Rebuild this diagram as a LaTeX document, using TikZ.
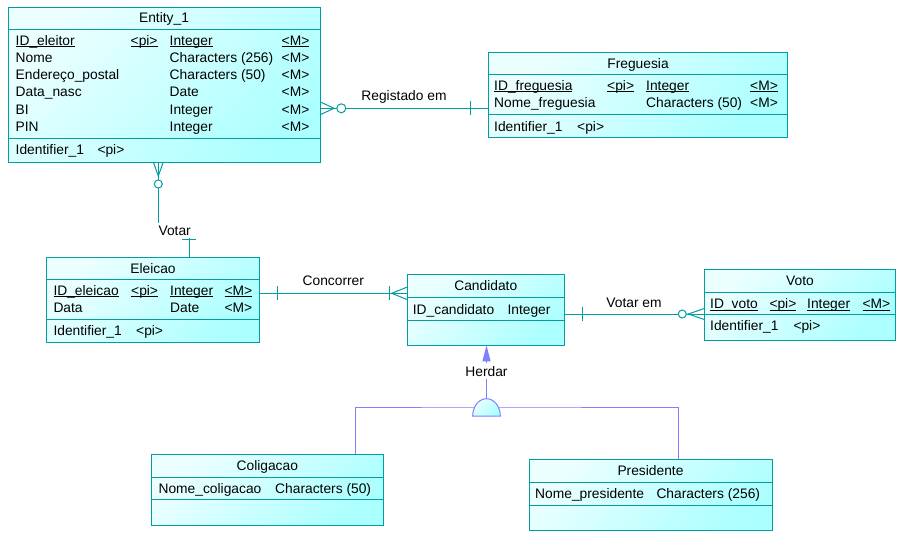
\documentclass[tikz,border=0pt]{standalone}
\usepackage{fontspec}
\setmainfont{Liberation Sans}
\usetikzlibrary{arrows.meta,calc}

\definecolor{boxline}{RGB}{0,158,158}
\definecolor{boxlight}{RGB}{236,255,255}
\definecolor{boxdark}{RGB}{172,255,255}
\definecolor{inhline}{RGB}{128,128,255}

\newsavebox\ulbox
\newcommand\ulx[1]{\sbox\ulbox{#1}\rlap{\rule[-2.2pt]{\wd\ulbox}{0.8pt}}\usebox\ulbox}

\begin{document}
\begin{tikzpicture}[
  x=1pt, y=-1pt,
  font=\fontsize{13.8}{16}\selectfont,
  entity/.style={
    draw=boxline, line width=1pt,
    top color=boxlight, bottom color=boxdark, shading angle=45,
    anchor=north west, inner sep=0pt, outer sep=0pt
  },
  cell/.style={anchor=base west, inner sep=0pt},
  ttl/.style={anchor=base, inner sep=0pt},
  sep/.style={draw=boxline, line width=1pt},
  rel/.style={draw=boxline, line width=1pt},
  inh/.style={draw=inhline, line width=1pt},
  lbl/.style={anchor=base, inner sep=0pt},
  rlabel/.style={anchor=base, fill=white, inner sep=3pt}
]
  \useasboundingbox (0,0) rectangle (899,544);

  % Entity_1
  \node[entity, minimum width=312pt, minimum height=155pt] (e1) at (8,7) {};
  \draw[sep] (8,29.5) -- (320,29.5);
  \draw[sep] (8,138.5) -- (320,138.5);
  \node[ttl] (e1t) at (164,22.5) {Entity\_1};
  \node[cell] (e1a1) at (15.5,45) {\ulx{ID\_eleitor}};
  \node[cell] (e1a2) at (130.5,45) {\ulx{<pi>}};
  \node[cell] (e1a3) at (169.5,45) {\ulx{Integer}};
  \node[cell] (e1a4) at (281.5,45) {\ulx{<M>}};
  \node[cell] (e1b1) at (15.5,62.3) {Nome};
  \node[cell] (e1b3) at (169.5,62.3) {Characters (256)};
  \node[cell] (e1b4) at (281.5,62.3) {<M>};
  \node[cell] (e1c1) at (15.5,79.6) {Endereço\_postal};
  \node[cell] (e1c3) at (169.5,79.6) {Characters (50)};
  \node[cell] (e1c4) at (281.5,79.6) {<M>};
  \node[cell] (e1d1) at (15.5,96.9) {Data\_nasc};
  \node[cell] (e1d3) at (169.5,96.9) {Date};
  \node[cell] (e1d4) at (281.5,96.9) {<M>};
  \node[cell] (e1e1) at (15.5,114.2) {BI};
  \node[cell] (e1e3) at (169.5,114.2) {Integer};
  \node[cell] (e1e4) at (281.5,114.2) {<M>};
  \node[cell] (e1f1) at (15.5,131.5) {PIN};
  \node[cell] (e1f3) at (169.5,131.5) {Integer};
  \node[cell] (e1f4) at (281.5,131.5) {<M>};
  \node[cell] (e1i1) at (15.5,154.5) {Identifier\_1};
  \node[cell] (e1i2) at (97.3,154.5) {<pi>};

  % Freguesia
  \node[entity, minimum width=299.4pt, minimum height=84.6pt] (fr) at (488.3,52.7) {};
  \draw[sep] (488.3,74.7) -- (787.7,74.7);
  \draw[sep] (488.3,114.7) -- (787.7,114.7);
  \node[ttl] (frt) at (638,68.5) {Freguesia};
  \node[cell] (fra1) at (494,90) {\ulx{ID\_freguesia}};
  \node[cell] (fra2) at (607,90) {\ulx{<pi>}};
  \node[cell] (fra3) at (646,90) {\ulx{Integer}};
  \node[cell] (fra4) at (750,90) {\ulx{<M>}};
  \node[cell] (frb1) at (494,107) {Nome\_freguesia};
  \node[cell] (frb3) at (646,107) {Characters (50)};
  \node[cell] (frb4) at (750,107) {<M>};
  \node[cell] (fri1) at (494,131) {Identifier\_1};
  \node[cell] (fri2) at (577,131) {<pi>};

  % Eleicao
  \node[entity, minimum width=213.4pt, minimum height=84.6pt] (el) at (46.3,257.7) {};
  \draw[sep] (46.3,279.3) -- (259.7,279.3);
  \draw[sep] (46.3,319.3) -- (259.7,319.3);
  \node[ttl] (elt) at (153,273.5) {Eleicao};
  \node[cell] (ela1) at (53.3,295) {\ulx{ID\_eleicao}};
  \node[cell] (ela2) at (131,295) {\ulx{<pi>}};
  \node[cell] (ela3) at (170,295) {\ulx{Integer}};
  \node[cell] (ela4) at (224.3,295) {\ulx{<M>}};
  \node[cell] (elb1) at (53.3,312) {Data};
  \node[cell] (elb3) at (170,312) {Date};
  \node[cell] (elb4) at (224.3,312) {<M>};
  \node[cell] (eli1) at (53.3,335) {Identifier\_1};
  \node[cell] (eli2) at (136,335) {<pi>};

  % Candidato
  \node[entity, minimum width=157pt, minimum height=70.6pt] (ca) at (407.3,274.7) {};
  \draw[sep] (407.3,297.7) -- (564.3,297.7);
  \draw[sep] (407.3,320.7) -- (564.3,320.7);
  \node[ttl] (cat) at (485.8,290.5) {Candidato};
  \node[cell] (caa1) at (412.7,314) {ID\_candidato};
  \node[cell] (caa3) at (507.3,314) {Integer};

  % Voto
  \node[entity, minimum width=191.4pt, minimum height=70.7pt] (vo) at (704.3,269.3) {};
  \draw[sep] (704.3,292.3) -- (895.7,292.3);
  \draw[sep] (704.3,314.3) -- (895.7,314.3);
  \node[ttl] (vot) at (800,285.5) {Voto};
  \node[cell] (voa1) at (710,308.5) {\ulx{ID\_voto}};
  \node[cell] (voa2) at (769.3,308.5) {\ulx{<pi>}};
  \node[cell] (voa3) at (807,308.5) {\ulx{Integer}};
  \node[cell] (voa4) at (862.3,308.5) {\ulx{<M>}};
  \node[cell] (voi1) at (710,330.5) {Identifier\_1};
  \node[cell] (voi2) at (793.3,330.5) {<pi>};

  % Coligacao
  \node[entity, minimum width=231.9pt, minimum height=71pt] (co) at (151.4,454.3) {};
  \draw[sep] (151.4,477) -- (383.3,477);
  \draw[sep] (151.4,499.3) -- (383.3,499.3);
  \node[ttl] (cot) at (267.3,470.5) {Coligacao};
  \node[cell] (coa1) at (158.4,493) {Nome\_coligacao};
  \node[cell] (coa3) at (275,493) {Characters (50)};

  % Presidente
  \node[entity, minimum width=243pt, minimum height=71pt] (pr) at (529,459.3) {};
  \draw[sep] (529,482.3) -- (772,482.3);
  \draw[sep] (529,505.7) -- (772,505.7);
  \node[ttl] (prt) at (650.5,475.5) {Presidente};
  \node[cell] (pra1) at (535,498.3) {Nome\_presidente};
  \node[cell] (pra3) at (656.3,498.3) {Characters (256)};

  % Registado em
  \coordinate (regA) at (e1.east |- 0,108.3);
  \coordinate (regB) at (fr.west |- regA);
  \draw[rel] (regA) -- (regB);
  \draw[rel] ($(regA)+(0,-6.5)$) -- ($(regA)+(14,0)$) -- ($(regA)+(0,6.5)$);
  \draw[rel, fill=white] ($(regA)+(21.3,0)$) circle[radius=4.5pt];
  \draw[rel] ($(regB)+(-17.6,-7)$) -- +(0,14);
  \node[lbl] (regL) at (404,100.5) {Registado em};

  % Votar
  \coordinate (votA) at (158.3,0 |- e1.south);
  \coordinate (votB) at (189.3,0 |- el.north);
  \draw[rel] (votA) -- (votA |- 0,230) -| (votB);
  \draw[rel] ($(votA)+(-5,0)$) -- ($(votA)+(0,14)$) -- ($(votA)+(5,0)$);
  \draw[rel, fill=white] ($(votA)+(0,22)$) circle[radius=4pt];
  \draw[rel] ($(votB)+(-7,-18.4)$) -- +(14,0);
  \node[rlabel] (votL) at (174.7,235) {Votar};

  % Concorrer
  \coordinate (conA) at (el.east |- 0,293.3);
  \coordinate (conB) at (ca.west |- conA);
  \draw[rel] (conA) -- (conB);
  \draw[rel] ($(conA)+(17.6,-7)$) -- +(0,14);
  \draw[rel] ($(conB)+(0,-6.3)$) -- ($(conB)+(-15.6,0)$) -- ($(conB)+(0,6.3)$);
  \draw[rel] ($(conB)+(-18,-7)$) -- +(0,14);
  \node[lbl] (conL) at (333.3,285) {Concorrer};

  % Votar em
  \coordinate (vemA) at (ca.east |- 0,314);
  \coordinate (vemB) at (vo.west |- vemA);
  \draw[rel] (vemA) -- (vemB);
  \draw[rel] ($(vemA)+(18,-7)$) -- +(0,14);
  \draw[rel] ($(vemB)+(0,-5.5)$) -- ($(vemB)+(-16,0)$) -- ($(vemB)+(0,5.5)$);
  \draw[rel, fill=white] ($(vemB)+(-22,0)$) circle[radius=4pt];
  \node[lbl] (vemL) at (634,307.5) {Votar em};

  % Herdar
  \coordinate (dome) at (486.5,398.7);
  \coordinate (bar) at (486.5,407);
  \draw[inh] (355,0 |- co.north) |- (bar) -| (678,0 |- pr.north);
  \draw[inh, -{Triangle[length=16pt,width=8pt]}] (dome) -- (dome |- ca.south);
  \draw[inh, top color=boxlight, bottom color=boxdark, shading angle=45]
    (472.7,416)
    arc[start angle=180, end angle=0, x radius=13.8pt, y radius=17.3pt]
    -- cycle;
  \node[rlabel] (herL) at (486.5,376) {Herdar};
\end{tikzpicture}
\end{document}
